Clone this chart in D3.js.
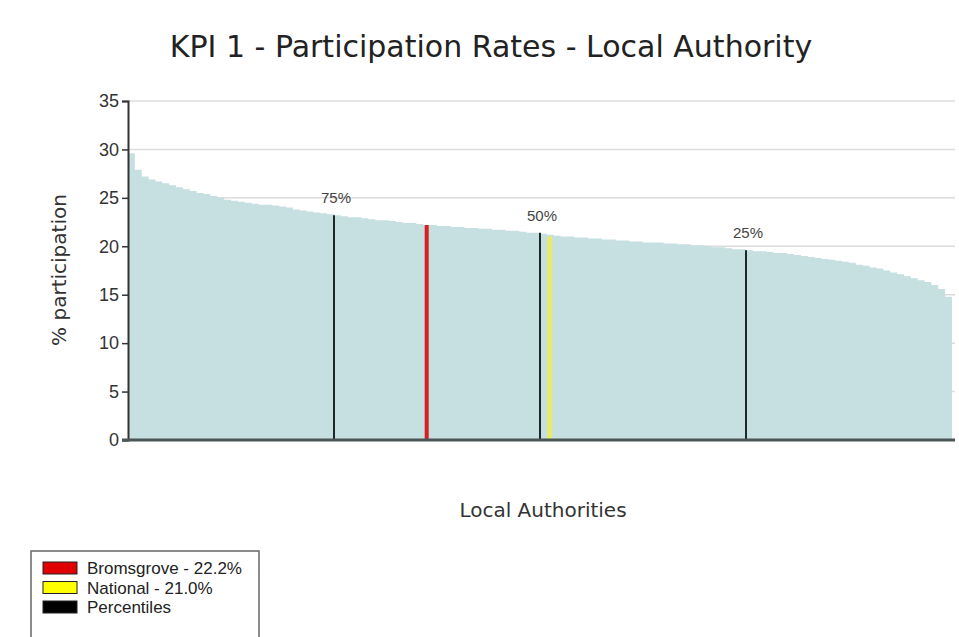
<!DOCTYPE html>
<html>
<head>
<meta charset="utf-8">
<script src="https://cdn.jsdelivr.net/npm/d3@7"></script>
<style>
  body { margin: 0; background: #fff; }
  svg { display: block; }
</style>
</head>
<body>
<svg id="chart" width="959" height="637"></svg>
<script>
// participation rate per local authority, sorted high -> low
const rates = [
  29.6, 27.9, 27.2, 26.9, 26.7, 26.5, 26.3, 26.1, 25.9, 25.7,
  25.5, 25.4, 25.2, 25.0, 24.8, 24.7, 24.6, 24.5, 24.4, 24.3,
  24.3, 24.2, 24.1, 24.0, 23.8, 23.7, 23.6, 23.5, 23.4, 23.3,
  23.2, 23.1, 23.0, 23.0, 22.9, 22.8, 22.7, 22.7, 22.6, 22.5,
  22.4, 22.4, 22.3, 22.2, 22.2, 22.1, 22.1, 22.0, 22.0, 21.9,
  21.9, 21.8, 21.8, 21.7, 21.7, 21.6, 21.6, 21.5, 21.4, 21.4,
  21.3, 21.2, 21.1, 21.0, 21.0, 20.9, 20.9, 20.8, 20.8, 20.7,
  20.7, 20.6, 20.6, 20.5, 20.5, 20.4, 20.4, 20.4, 20.3, 20.3,
  20.2, 20.2, 20.1, 20.1, 20.0, 19.9, 19.9, 19.8, 19.7, 19.7,
  19.6, 19.5, 19.5, 19.4, 19.3, 19.3, 19.2, 19.1, 19.0, 18.9,
  18.8, 18.7, 18.6, 18.5, 18.4, 18.3, 18.1, 18.0, 17.8, 17.7,
  17.5, 17.3, 17.1, 16.9, 16.7, 16.5, 16.3, 16.0, 15.6, 14.8
];

// percentile markers: rank position (out of rates.length) and value
const percentileLabels = ["75%", "50%", "25%"];
const percentilePos = [30, 60, 90];
const percentileValues = [23.2, 21.4, 19.6];

// highlighted authorities
const markerNames = ["Bromsgrove", "National"];
const markerPos = [43.5, 61.4];
const markerValues = [22.2, 21.0];
const markerColors = ["#d81e1e", "#eaea6a"];

const legendLabels = ["Bromsgrove - 22.2%", "National - 21.0%", "Percentiles"];
const legendColors = ["#e00000", "#ffff00", "#000000"];

const yTicks = [0, 5, 10, 15, 20, 25, 30, 35];

const margin = { top: 101, right: 4, bottom: 197, left: 128 };
const width = 959 - margin.left - margin.right;
const height = 637 - margin.top - margin.bottom;

const svg = d3.select("#chart");

svg.append("text")
  .attr("x", 491)
  .attr("y", 57)
  .attr("text-anchor", "middle")
  .style("font-family", "DejaVu Sans, sans-serif")
  .style("font-size", "30px")
  .style("fill", "#222")
  .text("KPI 1 - Participation Rates - Local Authority");

const g = svg.append("g")
  .attr("transform", `translate(${margin.left},${margin.top})`);

const xScale = d3.scaleLinear().domain([0, rates.length]).range([0, width - 3]);
const yScale = d3.scaleLinear().domain([0, 35]).range([height, 0]);

// gridlines
g.append("g")
  .selectAll("line")
  .data(yTicks.slice(1))
  .enter()
  .append("line")
  .attr("x1", 0)
  .attr("x2", width)
  .attr("y1", (d) => yScale(d))
  .attr("y2", (d) => yScale(d))
  .attr("stroke", "#dcdcdc")
  .attr("stroke-width", 1.5);

// filled distribution
const stepData = rates.map((d, i) => [i, d]).concat([[rates.length, rates[rates.length - 1]]]);
const area = d3.area()
  .x((d) => xScale(d[0]))
  .y0(yScale(0))
  .y1((d) => yScale(d[1]))
  .curve(d3.curveStepAfter);

g.append("path")
  .datum(stepData)
  .attr("d", area)
  .attr("fill", "#c6dfe1");

// highlighted authorities
g.selectAll(".marker")
  .data(markerNames)
  .enter()
  .append("line")
  .attr("class", "marker")
  .attr("x1", (d, i) => xScale(markerPos[i]))
  .attr("x2", (d, i) => xScale(markerPos[i]))
  .attr("y1", yScale(0))
  .attr("y2", (d, i) => yScale(markerValues[i]))
  .attr("stroke", (d, i) => markerColors[i])
  .attr("stroke-width", (d, i) => (i === 0 ? 4 : 5));

// percentile lines
g.selectAll(".pct")
  .data(percentileLabels)
  .enter()
  .append("line")
  .attr("class", "pct")
  .attr("x1", (d, i) => xScale(percentilePos[i]))
  .attr("x2", (d, i) => xScale(percentilePos[i]))
  .attr("y1", yScale(0))
  .attr("y2", (d, i) => yScale(percentileValues[i]))
  .attr("stroke", "#1c2828")
  .attr("stroke-width", 2);

g.selectAll(".pct-label")
  .data(percentileLabels)
  .enter()
  .append("text")
  .attr("class", "pct-label")
  .attr("x", (d, i) => xScale(percentilePos[i]) + 2)
  .attr("y", (d, i) => yScale(percentileValues[i]) - 12)
  .attr("text-anchor", "middle")
  .style("font-family", "Liberation Sans, Arial, sans-serif")
  .style("font-size", "15px")
  .style("fill", "#444")
  .text((d) => d);

// axes
const yAxis = d3.axisLeft(yScale).tickValues(yTicks).tickSize(6).tickPadding(3);
const yG = g.append("g").call(yAxis);
yG.select(".domain").attr("stroke", "#333").attr("stroke-width", 2);
yG.selectAll(".tick line").attr("stroke", "#333").attr("stroke-width", 1.5);
yG.selectAll(".tick text")
  .style("font-family", "Liberation Sans, Arial, sans-serif")
  .style("font-size", "18px")
  .style("fill", "#333");

g.append("line")
  .attr("x1", -6)
  .attr("x2", width)
  .attr("y1", height)
  .attr("y2", height)
  .attr("stroke", "#4a5656")
  .attr("stroke-width", 3);

// axis titles
svg.append("text")
  .attr("transform", "translate(66,270) rotate(-90)")
  .attr("text-anchor", "middle")
  .style("font-family", "DejaVu Sans, sans-serif")
  .style("font-size", "20px")
  .style("fill", "#333")
  .text("% participation");

svg.append("text")
  .attr("x", 543)
  .attr("y", 517)
  .attr("text-anchor", "middle")
  .style("font-family", "DejaVu Sans, sans-serif")
  .style("font-size", "20px")
  .style("fill", "#333")
  .text("Local Authorities");

// legend
const legend = svg.append("g").attr("transform", "translate(31,551)");
legend.append("rect")
  .attr("width", 228)
  .attr("height", 100)
  .attr("fill", "#fff")
  .attr("stroke", "#666")
  .attr("stroke-width", 1.5);

const items = legend.selectAll(".item")
  .data(legendLabels)
  .enter()
  .append("g")
  .attr("transform", (d, i) => `translate(12,${11 + i * 19.5})`);

items.append("rect")
  .attr("width", 34)
  .attr("height", 12)
  .attr("fill", (d, i) => legendColors[i])
  .attr("stroke", "#222")
  .attr("stroke-width", 1);

items.append("text")
  .attr("x", 44)
  .attr("y", 12)
  .style("font-family", "Liberation Sans Narrow, Liberation Sans, Arial, sans-serif")
  .style("font-size", "17px")
  .style("fill", "#222")
  .text((d) => d);
</script>
</body>
</html>
